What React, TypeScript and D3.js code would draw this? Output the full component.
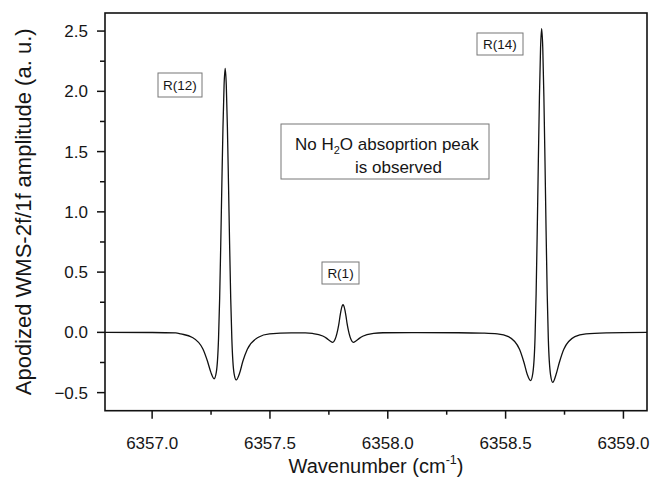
import React from "react";
import * as d3 from "d3";

// Spectrum (wavenumber, amplitude)
const wavenumbers: number[] = [
  6356.8, 6357.0, 6357.1, 6357.122, 6357.169, 6357.216, 6357.235, 6357.249, 6357.263, 6357.2724,
  6357.2818, 6357.2865, 6357.2912, 6357.2959, 6357.3006, 6357.3053, 6357.31, 6357.3147, 6357.3194,
  6357.3241, 6357.3288, 6357.3335, 6357.3382, 6357.3476, 6357.357, 6357.371, 6357.385, 6357.404,
  6357.451, 6357.498, 6357.59, 6357.65, 6357.68, 6357.724, 6357.741, 6357.754, 6357.767, 6357.776,
  6357.784, 6357.7885, 6357.793, 6357.797, 6357.8014, 6357.8057, 6357.81, 6357.8143, 6357.8186,
  6357.823, 6357.827, 6357.8315, 6357.836, 6357.844, 6357.853, 6357.866, 6357.879, 6357.896,
  6357.94, 6357.98, 6358.1, 6358.3, 6358.4, 6358.465, 6358.512, 6358.559, 6358.578, 6358.592,
  6358.606, 6358.6154, 6358.6248, 6358.6295, 6358.6342, 6358.6389, 6358.6436, 6358.6483, 6358.653,
  6358.6577, 6358.6624, 6358.6671, 6358.6718, 6358.6765, 6358.6812, 6358.6906, 6358.7, 6358.714,
  6358.728, 6358.747, 6358.794, 6358.841, 6358.93, 6359.1,
];
const amplitudes: number[] = [
  0.0, -0.001, -0.004, -0.013, -0.04, -0.14, -0.24, -0.33, -0.385, -0.33,
  -0.05, 0.28, 0.73, 1.23, 1.7, 2.05, 2.19, 2.05, 1.7,
  1.23, 0.73, 0.28, -0.05, -0.34, -0.395, -0.34, -0.24, -0.14,
  -0.04, -0.013, -0.005, -0.005, -0.009, -0.03, -0.05, -0.07, -0.083, -0.06,
  -0.01, 0.029, 0.077, 0.13, 0.18, 0.216, 0.23, 0.216, 0.18,
  0.13, 0.077, 0.029, -0.01, -0.06, -0.083, -0.07, -0.05, -0.03,
  -0.009, -0.003, -0.002, -0.003, -0.006, -0.012, -0.035, -0.14, -0.25, -0.35,
  -0.4, -0.34, -0.05, 0.32, 0.84, 1.42, 1.96, 2.36, 2.52,
  2.36, 1.96, 1.42, 0.84, 0.32, -0.05, -0.35, -0.415, -0.35,
  -0.25, -0.14, -0.035, -0.012, -0.004, 0.0,
];

const xMajorTicks: number[] = [6357.0, 6357.5, 6358.0, 6358.5, 6359.0];
const xMinorTicks: number[] = [6357.25, 6357.75, 6358.25, 6358.75];
const yMajorTicks: number[] = [-0.5, 0.0, 0.5, 1.0, 1.5, 2.0, 2.5];
const yMinorTicks: number[] = [-0.25, 0.25, 0.75, 1.25, 1.75, 2.25];

const xDomain: [number, number] = [6356.8, 6359.1];
const yDomain: [number, number] = [-0.65, 2.65];

const FONT = "'Liberation Sans', Arial, Helvetica, sans-serif";

export default function App() {
  const W = 652, H = 479;
  const left = 105, right = 647, top = 13, bottom = 410.7;
  const x = d3.scaleLinear().domain(xDomain).range([left, right]);
  const y = d3.scaleLinear().domain(yDomain).range([bottom, top]);
  const pts: [number, number][] = wavenumbers.map((w, i) => [w, amplitudes[i]]);
  const line = d3
    .line<[number, number]>()
    .x((d) => x(d[0]))
    .y((d) => y(d[1]))
    .curve(d3.curveMonotoneX);
  const fmt = d3.format(".1f");
  const textColor = "#161616";

  return (
    <svg
      width={W}
      height={H}
      style={{ position: "absolute", left: 0, top: 0, background: "#fff" }}
      fontFamily={FONT}
    >
      <rect x={0} y={0} width={W} height={H} fill="#fff" />
      <defs>
        <clipPath id="plotclip">
          <rect x={left} y={top} width={right - left} height={bottom - top} />
        </clipPath>
      </defs>
      {/* curve */}
      <path d={line(pts) || ""} fill="none" stroke="#111" strokeWidth={1.3} clipPath="url(#plotclip)" />

      {/* frame */}
      <rect x={left} y={top} width={right - left} height={bottom - top} fill="none" stroke="#111" strokeWidth={1.6} />

      {/* x ticks */}
      {xMajorTicks.map((t) => (
        <g key={"xm" + t}>
          <line x1={x(t)} x2={x(t)} y1={bottom} y2={bottom + 8} stroke="#111" strokeWidth={1.5} />
          <text x={x(t)} y={449} textAnchor="middle" fontSize={17} fill={textColor}>
            {fmt(t)}
          </text>
        </g>
      ))}
      {xMinorTicks.map((t) => (
        <line key={"xn" + t} x1={x(t)} x2={x(t)} y1={bottom} y2={bottom + 4} stroke="#111" strokeWidth={1.5} />
      ))}

      {/* y ticks */}
      {yMajorTicks.map((t) => (
        <g key={"ym" + t}>
          <line x1={left - 8} x2={left} y1={y(t)} y2={y(t)} stroke="#111" strokeWidth={1.5} />
          <text x={88} y={y(t)} dy="0.35em" textAnchor="end" fontSize={17} fill={textColor}>
            {fmt(t)}
          </text>
        </g>
      ))}
      {yMinorTicks.map((t) => (
        <line key={"yn" + t} x1={left - 5} x2={left} y1={y(t)} y2={y(t)} stroke="#111" strokeWidth={1.5} />
      ))}

      {/* axis titles */}
      <text x={(left + right) / 2} y={473} textAnchor="middle" fontSize={20} fill={textColor}>
        Wavenumber (cm
        <tspan fontSize={12.5} dy={-9}>-1</tspan>
        <tspan dy={9}>)</tspan>
      </text>
      <text
        transform={`translate(31, ${(top + bottom) / 2}) rotate(-90)`}
        textAnchor="middle"
        fontSize={22}
        fill={textColor}
      >
        Apodized WMS-2f/1f amplitude (a. u.)
      </text>

      {/* annotations */}
      <rect x={158} y={73} width={44} height={24} fill="#fff" stroke="#777" strokeWidth={1} />
      <text x={180} y={85} dy="0.35em" textAnchor="middle" fontSize={13.5} fill={textColor}>R(12)</text>

      <rect x={477} y={33} width={46} height={22} fill="#fff" stroke="#777" strokeWidth={1} />
      <text x={500} y={44} dy="0.35em" textAnchor="middle" fontSize={13.5} fill={textColor}>R(14)</text>

      <rect x={322} y={262} width={37} height={22} fill="#fff" stroke="#777" strokeWidth={1} />
      <text x={340.5} y={273} dy="0.35em" textAnchor="middle" fontSize={13.5} fill={textColor}>R(1)</text>

      <rect x={281} y={124} width={208} height={55} fill="#fff" stroke="#777" strokeWidth={1} />
      <text x={295} y={150} fontSize={17} fill={textColor}>
        No H<tspan fontSize={11} dy={4}>2</tspan>
        <tspan dy={-4}>O absoprtion peak</tspan>
      </text>
      <text x={355} y={173} fontSize={17} fill={textColor}>is observed</text>
    </svg>
  );
}
